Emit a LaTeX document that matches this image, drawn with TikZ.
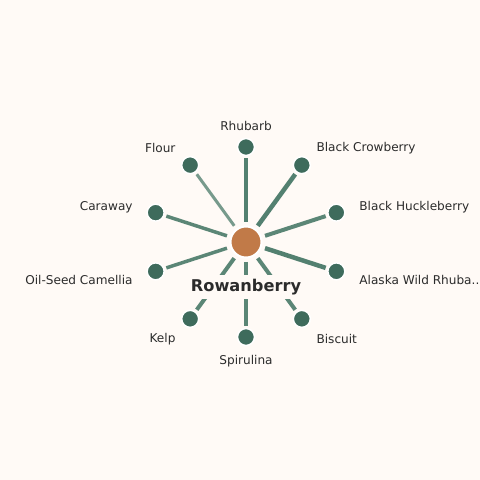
\documentclass[tikz,border=0pt]{standalone}
\usepackage{fontspec}
\setmainfont{DejaVu Sans}
\usetikzlibrary{backgrounds}
\definecolor{bgc}{HTML}{FFFAF6}
\definecolor{hubc}{HTML}{C17A48}
\definecolor{leafc}{HTML}{3E6B5C}
\definecolor{edgec}{HTML}{4A7A69}
\definecolor{txtc}{HTML}{2B2B2B}
\newcommand\alaskatxt{Alaska Wild Rhuba...}
\tikzset{
  hub/.style={circle, fill=hubc, draw=white, line width=2pt, minimum size=31pt, inner sep=0pt},
  leaf/.style={circle, fill=leafc, draw=white, line width=1.5pt, minimum size=17pt, inner sep=0pt},
  lab/.style={font=\fontsize{12.1}{14}\selectfont, text=txtc, inner sep=1pt},
  hublab/.style={font=\fontsize{16.2}{19}\selectfont\bfseries, text=txtc, fill=bgc, inner xsep=3pt, inner ysep=4pt},
  edge/.style={draw=edgec, line cap=butt, shorten <=3.5pt, shorten >=2pt}
}
\begin{document}
\begin{tikzpicture}[x=1pt,y=1pt]
\useasboundingbox (0,0) rectangle (480,480);
\begin{pgfonlayer}{background}
\fill[bgc] (0,0) rectangle (480,480);
\end{pgfonlayer}
\begin{scope}[shift={(246,238)}]
\node[hub] (c) at (0,0) {};
\node[hublab] (cl) at (0,-45) {Rowanberry};
\foreach \i/\a/\t/\anc/\w/\op in {
  1/90/Rhubarb/center/4.5/0.95,
  2/54/Black Crowberry/west/4.5/0.95,
  3/18/Black Huckleberry/west/4/0.9,
  4/-18/\alaskatxt/west/4.5/0.95,
  5/-54/Biscuit/west/4/0.9,
  6/-90/Spirulina/center/4.2/0.9,
  7/-126/Kelp/east/4/0.9,
  8/-162/Oil-Seed Camellia/east/3.5/0.9,
  9/162/Caraway/east/3.5/0.9,
  10/126/Flour/east/3/0.75} {
  \node[leaf] (n\i) at (\a:95) {};
  \node[lab, anchor=\anc] (l\i) at ([yshift=-1.5pt]\a:118) {\t};
  \begin{pgfonlayer}{background}
  \draw[edge, line width=\w pt, draw opacity=\op] (c) -- (n\i);
  \end{pgfonlayer}
}
\end{scope}
\end{tikzpicture}
\end{document}
